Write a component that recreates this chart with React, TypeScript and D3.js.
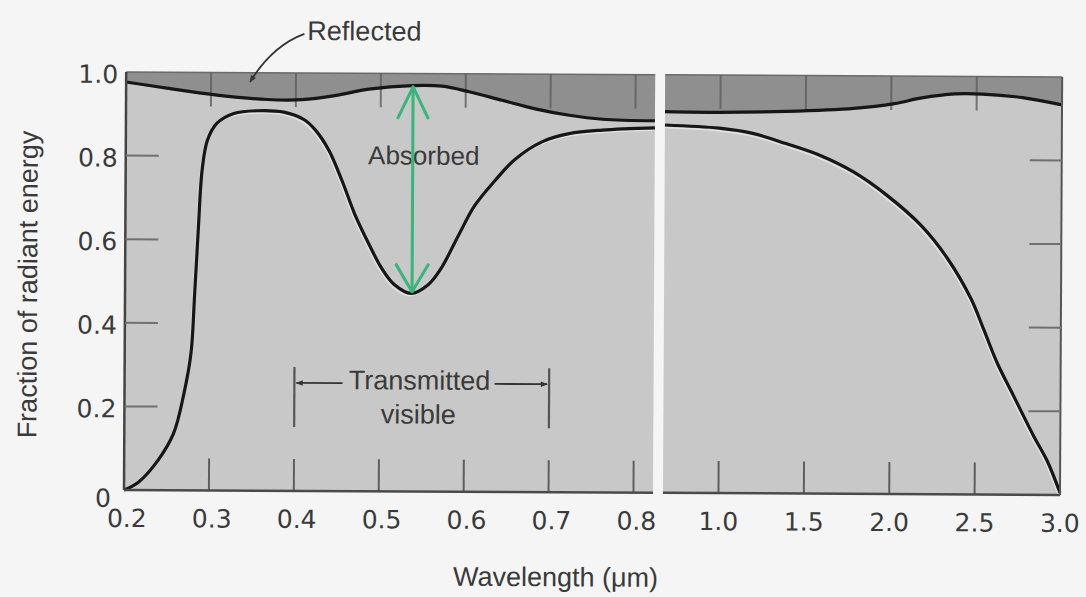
import React from 'react'
import * as d3 from 'd3'

// short-wave panel (0.2 - 0.82 µm)
const shortWave = [0.2, 0.217, 0.24, 0.258, 0.27, 0.278, 0.282, 0.286, 0.29, 0.296, 0.307, 0.327, 0.354, 0.386, 0.41, 0.423, 0.439, 0.455, 0.47, 0.487, 0.502, 0.517, 0.537, 0.557, 0.572, 0.592, 0.611, 0.635, 0.658, 0.69, 0.722, 0.761, 0.823]
const shortTransmitted = [0, 0.019, 0.072, 0.136, 0.232, 0.328, 0.471, 0.629, 0.766, 0.837, 0.878, 0.902, 0.909, 0.906, 0.888, 0.864, 0.816, 0.742, 0.663, 0.591, 0.534, 0.495, 0.474, 0.495, 0.534, 0.612, 0.684, 0.745, 0.795, 0.838, 0.858, 0.867, 0.873]
// lower edge of the reflected band (1 - reflected)
const shortReflWave = [0.2, 0.248, 0.307, 0.366, 0.407, 0.446, 0.486, 0.537, 0.572, 0.604, 0.643, 0.682, 0.722, 0.761, 0.823]
const shortReflected = [0.976, 0.962, 0.946, 0.936, 0.936, 0.946, 0.962, 0.971, 0.97, 0.957, 0.937, 0.917, 0.902, 0.893, 0.89]

// long-wave panel (to 3.0 µm)
const longWave = [0.675, 0.994, 1.19, 1.385, 1.586, 1.781, 1.976, 2.178, 2.331, 2.473, 2.55, 2.627, 2.728, 2.846, 2.923, 3.0]
const longTransmitted = [0.88, 0.873, 0.861, 0.837, 0.809, 0.77, 0.715, 0.643, 0.566, 0.468, 0.393, 0.316, 0.234, 0.139, 0.082, 0.005]
const longReflWave = [0.675, 0.994, 1.385, 1.781, 2.018, 2.178, 2.373, 2.533, 2.769, 3.0]
const longReflected = [0.912, 0.911, 0.914, 0.922, 0.934, 0.948, 0.958, 0.958, 0.95, 0.933]

const yTicks = [0, 0.2, 0.4, 0.6, 0.8, 1.0]
const yTickLabels = ['0', '0.2', '0.4', '0.6', '0.8', '1.0']
const shortTicks = [0.2, 0.3, 0.4, 0.5, 0.6, 0.7, 0.8]
const longTicks = [1.0, 1.5, 2.0, 2.5, 3.0]

const LIGHT = '#c8c8c8'
const DARK = '#8f8f8f'
const TEXT = '#3a3a3a'
const GREEN = '#36b67a'
const sans = '"Liberation Sans", Arial, sans-serif'
const digits = '"DejaVu Sans", sans-serif'

export default function App() {
  const top = 72, bottom = 490
  const y = d3.scaleLinear().domain([0, 1]).range([bottom, top])
  const xs = d3.scaleLinear().domain([0.2, 0.823]).range([124, 653])
  const xl = d3.scaleLinear().domain([0.675, 3.0]).range([663, 1060])
  const curve = d3.curveCatmullRom.alpha(0.5)

  const lineOf = (x, wave, vals) =>
    d3.line<number>().x((d, i) => x(wave[i])).y(d => y(d)).curve(curve)(vals)
  const bandOf = (x, wave, vals) =>
    d3.area<number>().x((d, i) => x(wave[i])).y0(y(1)).y1(d => y(d)).curve(curve)(vals)

  const panels = [
    { key: 's', x: xs, wave: shortWave, trans: shortTransmitted, rWave: shortReflWave, refl: shortReflected, ticks: [0.3, 0.4, 0.5, 0.6, 0.7, 0.8] },
    { key: 'l', x: xl, wave: longWave, trans: longTransmitted, rWave: longReflWave, refl: longReflected, ticks: [1.0, 1.5, 2.0, 2.5] }
  ]

  // green "absorbed" arrow
  const ax = xs(0.538)
  const aTop = y(0.968), aBot = y(0.478)

  const brL = xs(0.4), brR = xs(0.7)

  return (
    <svg width={1086} height={597} style={{ position: 'absolute', left: 0, top: 0, background: '#f5f5f5' }}>
      <defs>
        <marker id="ah" viewBox="0 0 10 10" refX="9" refY="5" markerWidth="9" markerHeight="7" orient="auto" markerUnits="userSpaceOnUse">
          <path d="M0,1 L10,5 L0,9 Z" fill="#333" />
        </marker>
      </defs>
      <rect width={1086} height={597} fill="#f5f5f5" />
      <g transform="rotate(0.3 124 490)">
        {panels.map(p => {
          const [r0, r1] = p.x.range()
          return (
            <g key={p.key}>
              <rect x={r0} y={top} width={r1 - r0} height={bottom - top} fill={LIGHT} />
              <path d={bandOf(p.x, p.rWave, p.refl)} fill={DARK} />
              <line x1={r0} x2={r1} y1={top} y2={top} stroke="#6a6a6a" strokeWidth={1.5} />
              {p.ticks.map(t => (
                <line key={'t' + t} x1={p.x(t)} x2={p.x(t)} y1={top} y2={top + 34} stroke="#5e5e5e" strokeWidth={2} opacity={0.8} />
              ))}
              {p.ticks.map(t => (
                <line key={'b' + t} x1={p.x(t)} x2={p.x(t)} y1={bottom} y2={bottom - 32} stroke="#5e5e5e" strokeWidth={2} />
              ))}
              <path d={lineOf(p.x, p.wave, p.trans)} fill="none" stroke="#f4f4f4" strokeWidth={1.5} opacity={0.6} transform="translate(-1.5,2.5)" />
              <path d={lineOf(p.x, p.rWave, p.refl)} fill="none" stroke="#161616" strokeWidth={3.2} />
              <path d={lineOf(p.x, p.wave, p.trans)} fill="none" stroke="#161616" strokeWidth={3.2} />
              <line x1={r0} x2={r1} y1={bottom} y2={bottom} stroke="#4a4a4a" strokeWidth={2.5} />
            </g>
          )
        })}

        {/* frame: left axis of short panel, right edge of long panel */}
        <line x1={124} x2={124} y1={top} y2={bottom} stroke="#444" strokeWidth={2.5} />
        <line x1={1060} x2={1060} y1={top} y2={bottom} stroke="#555" strokeWidth={2} />
        {yTicks.filter(t => t > 0 && t < 1).map(t => (
          <g key={'y' + t}>
            <line x1={124} x2={157} y1={y(t)} y2={y(t)} stroke="#707070" strokeWidth={2} />
            <line x1={1060} x2={1028} y1={y(t)} y2={y(t)} stroke="#707070" strokeWidth={2} />
          </g>
        ))}

        {/* tick labels */}
        {yTicks.map((t, i) => (
          <text key={'yl' + t} x={t === 0 ? 111 : 116} y={y(t) + (t === 0 ? 17 : 11)} textAnchor="end"
            fontFamily={digits} fontSize={25} fill={TEXT}>{yTickLabels[i]}</text>
        ))}
        {shortTicks.map(t => (
          <text key={'xs' + t} x={xs(t) + 3} y={bottom + 37} textAnchor="middle" fontFamily={digits} fontSize={25} fill={TEXT}>
            {t.toFixed(1)}
          </text>
        ))}
        {longTicks.map(t => (
          <text key={'xl' + t} x={xl(t)} y={bottom + 37} textAnchor="middle" fontFamily={digits} fontSize={25} fill={TEXT}>
            {t.toFixed(1)}
          </text>
        ))}

        {/* axis titles */}
        <text x={556} y={584} textAnchor="middle" fontFamily={sans} fontSize={27} fill={TEXT}>Wavelength (μm)</text>
        <text transform="translate(36,285) rotate(-90)" textAnchor="middle" fontFamily={sans} fontSize={27} fill={TEXT}>
          Fraction of radiant energy
        </text>

        {/* Reflected label and leader */}
        <text x={305} y={39} fontFamily={sans} fontSize={27} fill={TEXT}>Reflected</text>
        <path d={`M302,33 Q270,45 ${xs(0.346)},${y(0.978)}`} fill="none" stroke="#333" strokeWidth={1.8} markerEnd="url(#ah)" />

        {/* Absorbed */}
        <text x={422} y={163} textAnchor="middle" fontFamily={sans} fontSize={26} fill={TEXT}>Absorbed</text>
        <g stroke={GREEN} strokeWidth={3} fill="none" strokeLinecap="round" strokeLinejoin="round">
          <line x1={ax} x2={ax} y1={aTop} y2={aBot} />
          <path d={`M${ax - 15},${aTop + 31} L${ax},${aTop} L${ax + 15},${aTop + 31}`} />
          <path d={`M${ax - 16},${aBot - 27} L${ax},${aBot} L${ax + 16},${aBot - 27}`} />
        </g>

        {/* Transmitted visible bracket */}
        <g stroke="#555" strokeWidth={2.2}>
          <line x1={brL} x2={brL} y1={366} y2={426} />
          <line x1={brR} x2={brR} y1={366} y2={426} />
        </g>
        <line x1={342} x2={brL + 2} y1={382} y2={382} stroke="#333" strokeWidth={1.8} markerEnd="url(#ah)" />
        <line x1={494} x2={brR - 2} y1={382} y2={382} stroke="#333" strokeWidth={1.8} markerEnd="url(#ah)" />
        <text x={419} y={388} textAnchor="middle" fontFamily={sans} fontSize={27} fill={TEXT}>Transmitted</text>
        <text x={418} y={422} textAnchor="middle" fontFamily={sans} fontSize={27} fill={TEXT}>visible</text>
      </g>
    </svg>
  )
}
